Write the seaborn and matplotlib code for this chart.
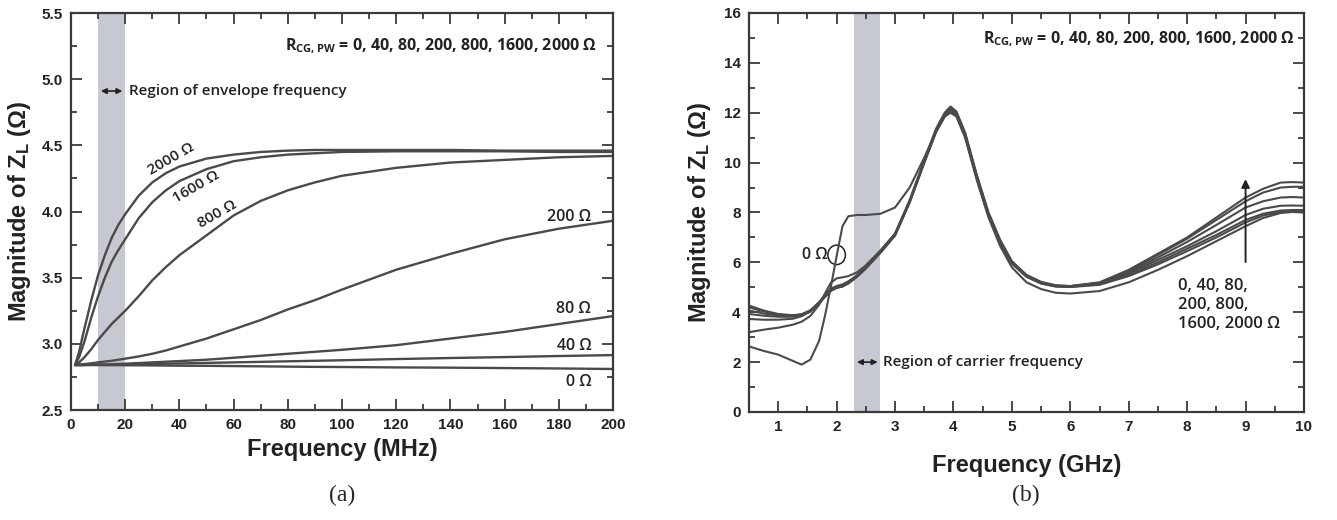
import numpy as np
import pandas as pd
import seaborn as sns
import matplotlib
matplotlib.use("Agg")
import matplotlib.pyplot as plt
from matplotlib.patches import Ellipse
from matplotlib.ticker import MultipleLocator, FormatStrFormatter

# ---- data ----
r_values = [0, 40, 80, 200, 800, 1600, 2000]

# (a) envelope band, MHz
a_freq = [1.5, 3, 5, 7.5, 10, 12.5, 15, 17.5, 20, 25, 30, 35, 40, 50, 60, 70, 80, 90, 100, 120, 140, 160, 180, 200]
za_0 = [2.84, 2.84, 2.84, 2.84, 2.84, 2.839, 2.839, 2.839, 2.838, 2.838, 2.837, 2.836, 2.835, 2.834, 2.832, 2.83, 2.828, 2.826, 2.825, 2.822, 2.82, 2.817, 2.814, 2.81]
za_40 = [2.84, 2.84, 2.84, 2.841, 2.841, 2.842, 2.842, 2.843, 2.844, 2.846, 2.848, 2.85, 2.852, 2.856, 2.86, 2.864, 2.868, 2.872, 2.876, 2.885, 2.893, 2.90, 2.908, 2.915]
za_80 = [2.84, 2.84, 2.841, 2.842, 2.843, 2.844, 2.846, 2.848, 2.85, 2.855, 2.86, 2.865, 2.87, 2.88, 2.895, 2.91, 2.925, 2.94, 2.955, 2.99, 3.04, 3.09, 3.15, 3.21]
za_200 = [2.84, 2.843, 2.847, 2.853, 2.86, 2.866, 2.872, 2.88, 2.888, 2.905, 2.925, 2.95, 2.98, 3.04, 3.11, 3.18, 3.26, 3.33, 3.41, 3.56, 3.68, 3.79, 3.87, 3.93]
za_800 = [2.84, 2.86, 2.90, 2.96, 3.03, 3.09, 3.15, 3.20, 3.25, 3.36, 3.48, 3.58, 3.67, 3.82, 3.97, 4.08, 4.16, 4.22, 4.27, 4.33, 4.37, 4.39, 4.41, 4.42]
za_1600 = [2.84, 2.90, 3.02, 3.20, 3.36, 3.50, 3.62, 3.71, 3.79, 3.95, 4.07, 4.16, 4.23, 4.32, 4.38, 4.41, 4.43, 4.44, 4.45, 4.455, 4.455, 4.455, 4.45, 4.45]
za_2000 = [2.84, 2.94, 3.12, 3.33, 3.52, 3.67, 3.80, 3.90, 3.98, 4.12, 4.22, 4.29, 4.34, 4.40, 4.43, 4.45, 4.46, 4.465, 4.465, 4.465, 4.465, 4.46, 4.46, 4.46]

# (b) carrier band, GHz
b_freq = [0.5, 0.75, 1.0, 1.25, 1.4, 1.55, 1.7, 1.8, 1.9, 2.0, 2.1, 2.2, 2.35, 2.5, 2.75, 3.0, 3.25, 3.5, 3.7, 3.85,
          3.95, 4.05, 4.2, 4.4, 4.6, 4.8, 5.0, 5.25, 5.5, 5.75, 6.0, 6.5, 7.0, 7.5, 8.0, 8.5, 9.0, 9.3, 9.6, 9.8, 10.0]
zb_0 = [2.63, 2.45, 2.30, 2.05, 1.90, 2.10, 2.85, 3.85, 5.00, 6.25, 7.45, 7.85, 7.90, 7.90, 7.95, 8.20, 9.00, 10.20, 11.25, 11.85,
        12.00, 11.85, 11.00, 9.30, 7.80, 6.65, 5.80, 5.20, 4.93, 4.78, 4.75, 4.85, 5.20, 5.70, 6.25, 6.85, 7.45, 7.78, 7.98, 8.02, 8.00]
zb_40 = [3.20, 3.30, 3.38, 3.50, 3.62, 3.85, 4.30, 4.75, 5.18, 5.36, 5.40, 5.45, 5.60, 5.88, 6.48, 7.15, 8.45, 10.02, 11.22, 11.85,
         12.05, 11.90, 11.05, 9.35, 7.85, 6.78, 5.95, 5.42, 5.15, 5.03, 5.01, 5.10, 5.45, 5.92, 6.45, 7.00, 7.60, 7.88, 8.02, 8.05, 8.05]
zb_80 = [3.73, 3.70, 3.70, 3.74, 3.84, 4.04, 4.40, 4.70, 4.95, 5.05, 5.12, 5.24, 5.48, 5.80, 6.42, 7.10, 8.42, 10.00, 11.22, 11.87,
         12.05, 11.92, 11.08, 9.38, 7.88, 6.80, 5.97, 5.44, 5.16, 5.04, 5.02, 5.12, 5.50, 6.00, 6.55, 7.10, 7.70, 7.95, 8.08, 8.10, 8.10]
zb_200 = [3.93, 3.86, 3.82, 3.82, 3.87, 4.02, 4.35, 4.62, 4.87, 4.99, 5.04, 5.15, 5.42, 5.75, 6.38, 7.07, 8.40, 10.00, 11.25, 11.90,
          12.10, 11.95, 11.10, 9.40, 7.90, 6.82, 5.98, 5.45, 5.17, 5.05, 5.03, 5.15, 5.55, 6.10, 6.65, 7.25, 7.90, 8.15, 8.27, 8.28, 8.27]
zb_800 = [4.07, 3.95, 3.87, 3.85, 3.89, 4.04, 4.36, 4.62, 4.86, 4.98, 5.03, 5.16, 5.43, 5.77, 6.40, 7.10, 8.42, 10.02, 11.27, 11.93,
          12.15, 11.98, 11.13, 9.43, 7.93, 6.84, 6.00, 5.46, 5.18, 5.06, 5.04, 5.17, 5.60, 6.20, 6.82, 7.50, 8.20, 8.45, 8.60, 8.62, 8.60]
zb_1600 = [4.20, 4.03, 3.91, 3.87, 3.91, 4.06, 4.38, 4.63, 4.86, 4.98, 5.04, 5.18, 5.46, 5.80, 6.42, 7.12, 8.45, 10.05, 11.30, 11.97,
           12.20, 12.02, 11.17, 9.47, 7.97, 6.87, 6.02, 5.48, 5.20, 5.07, 5.05, 5.18, 5.65, 6.30, 6.95, 7.70, 8.45, 8.80, 9.00, 9.03, 9.03]
zb_2000 = [4.27, 4.07, 3.93, 3.88, 3.92, 4.08, 4.40, 4.65, 4.88, 5.00, 5.06, 5.20, 5.48, 5.82, 6.45, 7.15, 8.50, 10.10, 11.35, 12.00,
           12.25, 12.05, 11.20, 9.50, 8.00, 6.90, 6.05, 5.50, 5.22, 5.08, 5.05, 5.20, 5.70, 6.35, 7.00, 7.80, 8.60, 8.95, 9.20, 9.22, 9.20]

env_band = (10, 20)      # MHz
car_band = (2.3, 2.75)   # GHz

# long-form tables for seaborn
df_a = pd.concat([pd.DataFrame({"f": a_freq, "z": z, "R": r})
                  for r, z in zip(r_values, [za_0, za_40, za_80, za_200, za_800, za_1600, za_2000])])
df_b = pd.concat([pd.DataFrame({"f": b_freq, "z": z, "R": r})
                  for r, z in zip(r_values, [zb_0, zb_40, zb_80, zb_200, zb_800, zb_1600, zb_2000])])

sns.set_theme(style="ticks")
plt.rcParams["font.family"] = ["Liberation Sans", "DejaVu Sans"]
plt.rcParams["mathtext.default"] = "regular"

line_c = "#4a4a4a"
band_c = "#c6c9d2"
txt_c = "#222222"
ann_font = ["Open Sans", "DejaVu Sans"]

fig = plt.figure(figsize=(13.37, 5.2), dpi=100)
ax1 = fig.add_axes([0.0531, 0.2115, 0.4054, 0.7635])
ax2 = fig.add_axes([0.5602, 0.2077, 0.4151, 0.7673])

for ax in (ax1, ax2):
    for s in ax.spines.values():
        s.set_linewidth(1.6)
        s.set_color("#3a3a3a")
    ax.tick_params(which="both", direction="in", top=True, right=True, color="#3a3a3a", width=1.3)
    ax.tick_params(which="major", length=8, labelsize=11, pad=6, labelcolor=txt_c)
    ax.tick_params(which="minor", length=4.5)

# ---- (a) ----
ax1.axvspan(*env_band, color=band_c, lw=0, zorder=0)
sns.lineplot(data=df_a, x="f", y="z", hue="R", palette=[line_c] * 7, legend=False,
             linewidth=1.7, ax=ax1, estimator=None)
ax1.set_xlim(0, 200)
ax1.set_ylim(2.5, 5.5)
ax1.xaxis.set_major_locator(MultipleLocator(20))
ax1.xaxis.set_minor_locator(MultipleLocator(10))
ax1.yaxis.set_major_locator(MultipleLocator(0.5))
ax1.yaxis.set_minor_locator(MultipleLocator(0.25))
ax1.yaxis.set_major_formatter(FormatStrFormatter("%.1f"))
ax1.set_xlabel("Frequency (MHz)", fontsize=17, fontweight="bold", color=txt_c, labelpad=4)
ax1.set_ylabel("Magnitude of Z$_{L}$ (Ω)", fontsize=17, fontweight="bold", color=txt_c, labelpad=6)

ax1.text(194, 5.25, "R$_{CG,PW}$ = 0, 40, 80, 200, 800, 1600, 2000 Ω", ha="right", va="center",
         fontsize=11.5, fontweight="bold", family=ann_font, color=txt_c)
ax1.annotate("", xy=(env_band[0], 4.91), xytext=(env_band[1], 4.91),
             arrowprops=dict(arrowstyle="<|-|>", color="#222222", lw=1.2, mutation_scale=8))
ax1.text(21.5, 4.91, "Region of envelope frequency", ha="left", va="center",
         fontsize=11, fontweight="semibold", family=ann_font, color=txt_c)
for x, y, s in [(37, 4.40, "2000 Ω"), (46, 4.19, "1600 Ω"), (54, 3.98, "800 Ω")]:
    ax1.text(x, y, s, ha="center", va="center", rotation=30, fontsize=11,
             fontweight="semibold", family=ann_font, color=txt_c)
for y, s in [(3.96, "200 Ω"), (3.26, "80 Ω"), (2.98, "40 Ω"), (2.71, "0 Ω")]:
    ax1.text(192, y, s, ha="right", va="center", fontsize=11.5,
             fontweight="semibold", family=ann_font, color=txt_c)

# ---- (b) ----
ax2.axvspan(*car_band, color=band_c, lw=0, zorder=0)
sns.lineplot(data=df_b, x="f", y="z", hue="R", palette=[line_c] * 7, legend=False,
             linewidth=1.5, ax=ax2, estimator=None)
ax2.set_xlim(0.5, 10)
ax2.set_ylim(0, 16)
ax2.xaxis.set_major_locator(MultipleLocator(1))
ax2.xaxis.set_minor_locator(MultipleLocator(0.5))
ax2.yaxis.set_major_locator(MultipleLocator(2))
ax2.yaxis.set_minor_locator(MultipleLocator(1))
ax2.set_xlabel("Frequency (GHz)", fontsize=17, fontweight="bold", color=txt_c, labelpad=14)
ax2.set_ylabel("Magnitude of Z$_{L}$ (Ω)", fontsize=17, fontweight="bold", color=txt_c, labelpad=8)

for ax in (ax1, ax2):
    for lab in ax.get_xticklabels() + ax.get_yticklabels():
        lab.set_fontweight("bold")

ax2.text(9.85, 14.96, "R$_{CG,PW}$ = 0, 40, 80, 200, 800, 1600, 2000 Ω", ha="right", va="center",
         fontsize=11.5, fontweight="bold", family=ann_font, color=txt_c)
ax2.annotate("", xy=(car_band[0], 2.0), xytext=(car_band[1], 2.0),
             arrowprops=dict(arrowstyle="<|-|>", color="#222222", lw=1.2, mutation_scale=8))
ax2.text(2.8, 2.0, "Region of carrier frequency", ha="left", va="center",
         fontsize=11, fontweight="semibold", family=ann_font, color=txt_c)
ax2.add_patch(Ellipse((2.0, 6.3), 0.3, 0.78, fill=False, ec="#222222", lw=1.1))
ax2.text(1.84, 6.3, "0 Ω", ha="right", va="center", fontsize=11.5,
         fontweight="semibold", family=ann_font, color=txt_c)
ax2.annotate("", xy=(9.0, 9.45), xytext=(9.0, 5.9),
             arrowprops=dict(arrowstyle="-|>", color="#222222", lw=1.4, mutation_scale=12))
ax2.text(7.84, 4.3, "0, 40, 80,\n200, 800,\n1600, 2000 Ω", ha="left", va="center",
         fontsize=12, fontweight="semibold", family=ann_font, color=txt_c, linespacing=1.25)

fig.text(0.256, 0.048, "(a)", ha="center", va="center", fontsize=17, family=["Liberation Serif", "DejaVu Serif"])
fig.text(0.767, 0.048, "(b)", ha="center", va="center", fontsize=17, family=["Liberation Serif", "DejaVu Serif"])

fig.savefig("out.png", dpi=100)
